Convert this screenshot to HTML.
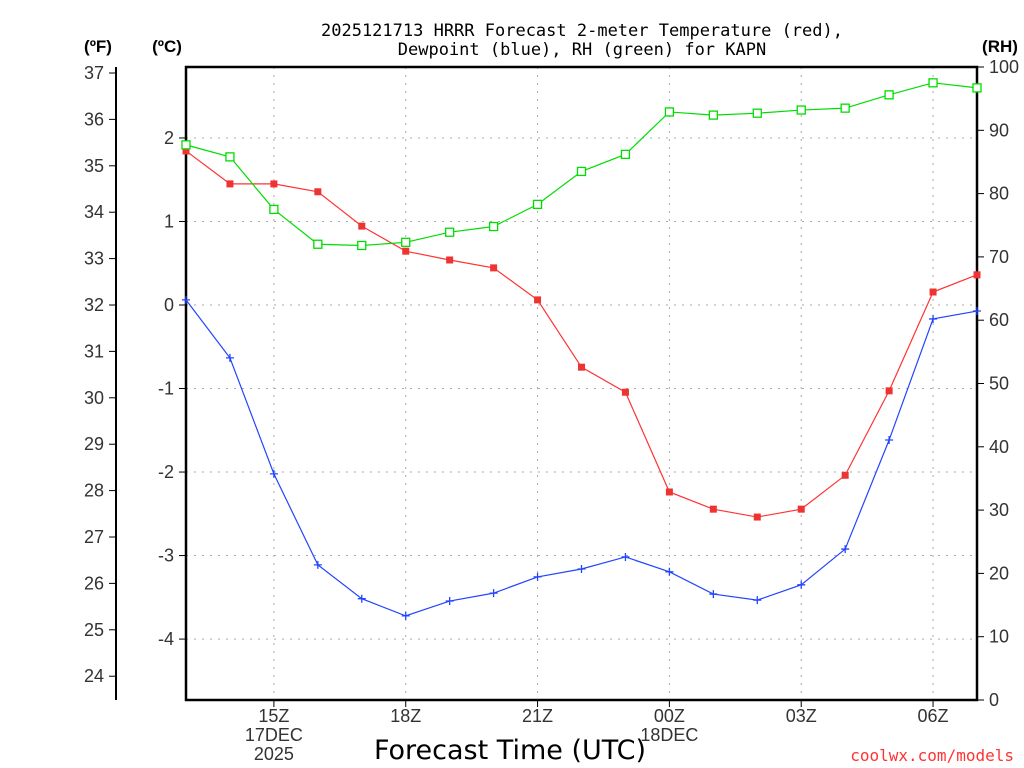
<!DOCTYPE html>
<html><head><meta charset="utf-8"><style>
body{margin:0;background:#fff;}
svg{display:block;font-family:"Liberation Sans","DejaVu Sans",sans-serif;}
</style></head><body>
<svg id="c" width="1024" height="768" viewBox="0 0 1024 768">
<g id="grid"></g><g id="axes"></g><g id="series"></g>
<text x="582" y="36" text-anchor="middle" font-size="17" font-family="DejaVu Sans Mono, monospace">2025121713 HRRR Forecast 2-meter Temperature (red),</text>
<text x="582" y="55" text-anchor="middle" font-size="17" font-family="DejaVu Sans Mono, monospace">Dewpoint (blue), RH (green) for KAPN</text>
<text x="98" y="52" text-anchor="middle" font-size="17" font-weight="bold">(ºF)</text>
<text x="167" y="52" text-anchor="middle" font-size="17" font-weight="bold">(ºC)</text>
<text x="1000" y="52" text-anchor="middle" font-size="17" font-weight="bold">(RH)</text>
<text x="510" y="759" text-anchor="middle" font-size="27" font-family="DejaVu Sans, sans-serif">Forecast Time (UTC)</text>
<text x="1014" y="761" text-anchor="end" font-size="16" fill="#ff3333" font-family="DejaVu Sans Mono, monospace">coolwx.com/models</text>
</svg>
<script>
const hours=[13,14,15,16,17,18,19,20,21,22,23,24,25,26,27,28,29,30,31];
const tempF=[35.32,34.61,34.61,34.44,33.70,33.16,32.97,32.80,32.11,30.66,30.12,27.97,27.60,27.43,27.60,28.33,30.15,32.28,32.65];
const dewF=[32.11,30.86,28.36,26.40,25.67,25.30,25.62,25.79,26.14,26.31,26.57,26.25,25.77,25.64,25.97,26.74,29.09,31.70,31.87];
const rh=[87.7,85.8,77.5,72.0,71.8,72.3,73.9,74.8,78.3,83.5,86.2,92.9,92.4,92.7,93.2,93.5,95.6,97.5,96.7];
const fTicks=[24,25,26,27,28,29,30,31,32,33,34,35,36,37];
const cTicks=[-4,-3,-2,-1,0,1,2];
const rhTicks=[0,10,20,30,40,50,60,70,80,90,100];
const xTicks=[15,18,21,24,27,30];
const xLabels=["15Z","18Z","21Z","00Z","03Z","06Z"];

const L=186,R=977,T=67,B=700;
const X=h=>L+(h-13)*(R-L)/18;
const YF=f=>305-(f-32)*46.4;
const YC=c=>YF(c*1.8+32);
const YR=r=>B-r*(B-T)/100;
const NS="http://www.w3.org/2000/svg";
function mk(par,tag,at,txt){const e=document.createElementNS(NS,tag);for(const k in at)e.setAttribute(k,at[k]);if(txt!==undefined)e.textContent=txt;document.getElementById(par).appendChild(e);return e;}
const txtS={ "font-size":"18", "fill":"#333"};
xTicks.forEach(h=>{const e=mk('grid','line',{x1:X(h),x2:X(h),y1:T,y2:B,stroke:'#aaa','stroke-dasharray':'2,6'});

});
cTicks.forEach(c=>{const e=mk('grid','line',{x1:L,x2:R,y1:YC(c),y2:YC(c),stroke:'#aaa','stroke-dasharray':'2,6'});

});
let fr=mk('axes','rect',{x:L,y:T,width:R-L,height:B-T,fill:'none',stroke:'#000','stroke-width':2.5});


let fa=mk('axes','line',{x1:116,x2:116,y1:T,y2:B,stroke:'#000','stroke-width':2});


fTicks.forEach(f=>{mk('axes','line',{x1:109,x2:116,y1:YF(f),y2:YF(f),stroke:'#000'});
const t=mk('axes','text',{x:104,y:YF(f)+6,'text-anchor':'end',...txtS},f);

});
cTicks.forEach(c=>{mk('axes','line',{x1:179,x2:186,y1:YC(c),y2:YC(c),stroke:'#000'});
const t=mk('axes','text',{x:174,y:YC(c)+6,'text-anchor':'end',...txtS},c);

});
rhTicks.forEach(r=>{mk('axes','line',{x1:977,x2:984,y1:YR(r),y2:YR(r),stroke:'#000'});
const t=mk('axes','text',{x:989,y:YR(r)+6,'text-anchor':'start',...txtS},r);

});
xTicks.forEach((h,i)=>{mk('axes','line',{x1:X(h),x2:X(h),y1:B,y2:B+7,stroke:'#000'});
const t=mk('axes','text',{x:X(h),y:722,'text-anchor':'middle',...txtS},xLabels[i]);

});
[["17DEC",X(15),741],["2025",X(15),760],["18DEC",X(24),741]].forEach(d=>{const t=mk('axes','text',{x:d[1],y:d[2],'text-anchor':'middle',...txtS},d[0]);

});
function line(vals,yf,col,name){const p=mk('series','polyline',{points:vals.map((v,i)=>X(hours[i])+','+yf(v)).join(' '),fill:'none',stroke:col,'stroke-width':1.2});

}
line(tempF,YF,'#ff3333','temperature');
line(dewF,YF,'#2244ff','dewpoint');
line(rh,YR,'#00dd00','rh');
tempF.forEach((v,i)=>{const m=mk('series','rect',{x:X(hours[i])-3.5,y:YF(v)-3.5,width:7,height:7,fill:'#ee3333'});

});
dewF.forEach((v,i)=>{const x=X(hours[i]),y=YF(v);const m=mk('series','path',{d:`M${x-4},${y}H${x+4}M${x},${y-4}V${y+4}`,stroke:'#2244ff','stroke-width':1.3});

});
rh.forEach((v,i)=>{const m=mk('series','rect',{x:X(hours[i])-4,y:YR(v)-4,width:8,height:8,fill:'#fff',stroke:'#00dd00','stroke-width':1.3});

});
</script>
</body></html>
